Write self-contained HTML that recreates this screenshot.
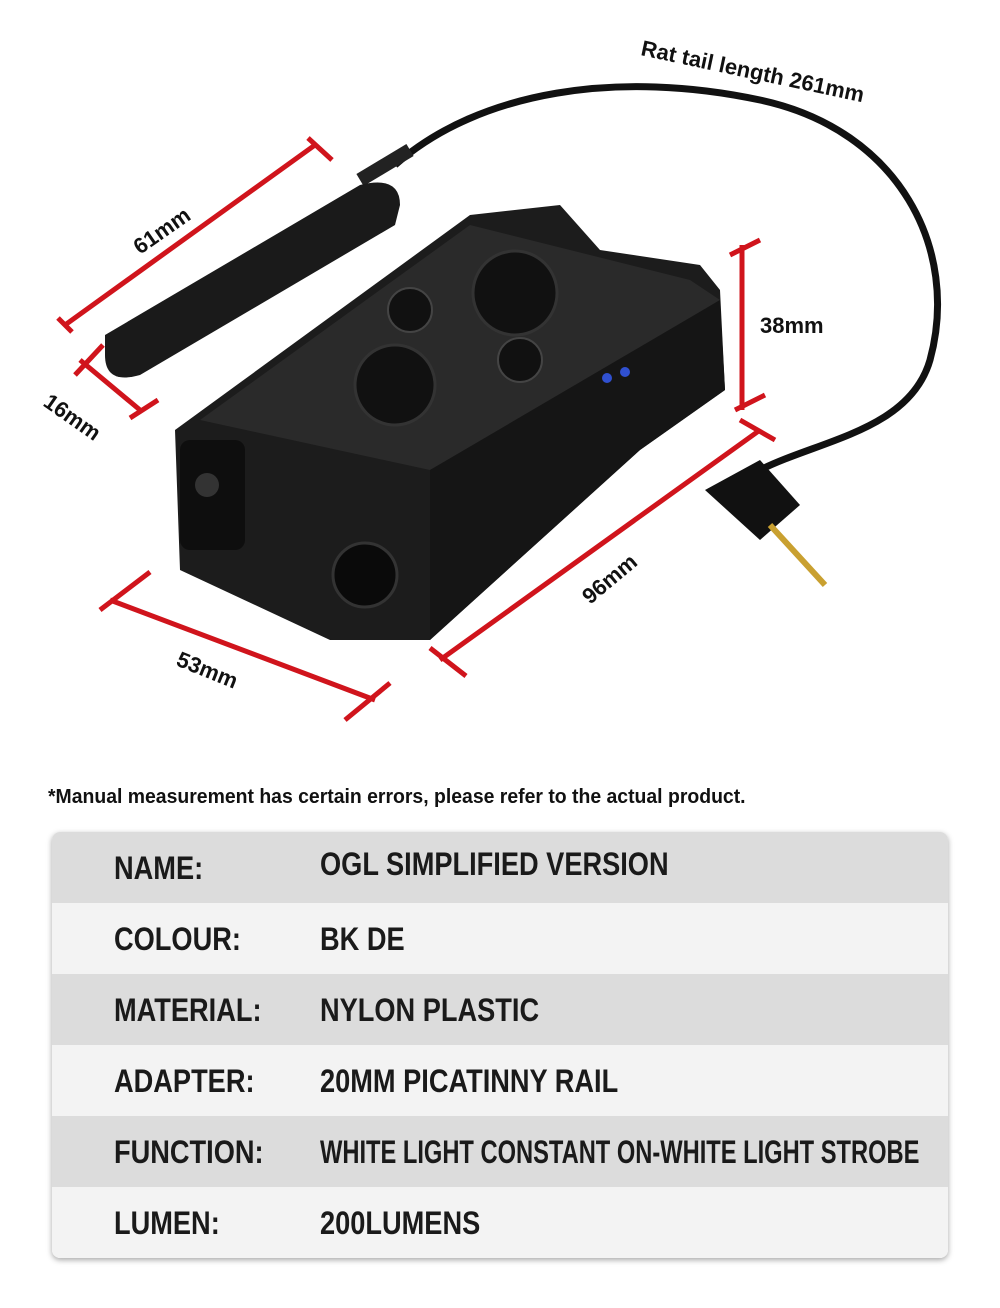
<!DOCTYPE html>
<html><head><meta charset="utf-8">
<style>
body{margin:0;background:#fff;width:1000px;height:1308px;position:relative;overflow:hidden;font-family:"Liberation Sans Narrow","Liberation Sans",sans-serif;}
.t{position:absolute;font-weight:bold;color:#111;white-space:nowrap}
.tbl{position:absolute;left:52px;top:832px;width:896px;height:426px;border-radius:8px;overflow:hidden;box-shadow:0 2px 6px rgba(0,0,0,.35);}
.r{height:71px;position:relative}
.g{background:#dcdcdc}.l{background:#f3f3f3}
.k,.v{position:absolute;top:18px;font-size:32px;font-weight:bold;color:#1a1a1a;transform:scaleX(.85);transform-origin:left;white-space:nowrap}
.k{left:62px}.v{left:268px}
</style></head><body>
<svg width="1000" height="760" style="position:absolute;left:0;top:0">
<path d="M395 165 C480 90,620 70,760 100 C900 130,960 250,930 360 C910 430,820 440,760 470" fill="none" stroke="#111" stroke-width="7"/>
<path d="M360 180 L410 150" stroke="#222" stroke-width="14"/>
<path d="M105 335 L360 185 Q400 175 400 205 L395 225 L140 375 Q105 385 105 355 Z" fill="#1a1a1a"/>
<path d="M705 490 L760 460 L800 505 L760 540 Z" fill="#111"/>
<path d="M770 525 L825 585" stroke="#c9a030" stroke-width="6"/>
<path d="M175 430 L470 215 L560 205 L600 250 L700 265 L720 290 L725 390 L640 450 L430 640 L330 640 L180 570 Z" fill="#1c1c1c"/>
<path d="M200 420 L470 225 L690 280 L720 300 L560 400 L430 470 Z" fill="#2a2a2a"/>
<path d="M430 470 L720 300 L725 390 L640 450 L430 640 Z" fill="#151515"/>
<circle cx="515" cy="293" r="42" fill="#111" stroke="#333" stroke-width="3"/>
<circle cx="395" cy="385" r="40" fill="#111" stroke="#333" stroke-width="3"/>
<circle cx="410" cy="310" r="22" fill="#111" stroke="#444" stroke-width="2"/>
<circle cx="520" cy="360" r="22" fill="#111" stroke="#444" stroke-width="2"/>
<rect x="180" y="440" width="65" height="110" rx="10" fill="#0e0e0e"/>
<circle cx="365" cy="575" r="32" fill="#0a0a0a" stroke="#333" stroke-width="3"/>
<circle cx="207" cy="485" r="12" fill="#333"/>
<circle cx="607" cy="378" r="5" fill="#3050d0"/><circle cx="625" cy="372" r="5" fill="#3050d0"/>
<g stroke="#d0141c" stroke-width="5" fill="none">
<path d="M65 325 L315 145 M58 318 L72 332 M308 138 L332 160"/>
<path d="M80 360 L140 410 M75 375 L103 345 M130 418 L158 400"/>
<path d="M110 600 L375 700 M100 610 L150 572 M345 720 L390 683"/>
<path d="M440 660 L760 430 M430 648 L466 676 M740 420 L775 440"/>
<path d="M742 245 L742 410 M730 255 L760 240 M735 410 L765 395"/>
</g>
<g font-family="Liberation Sans,sans-serif" font-weight="bold" fill="#111" font-size="22">
<text x="140" y="255" transform="rotate(-35 140 255)">61mm</text>
<text x="42" y="405" transform="rotate(35 42 405)">16mm</text>
<text x="175" y="665" transform="rotate(22 175 665)">53mm</text>
<text x="590" y="605" transform="rotate(-40 590 605)">96mm</text>
<text x="760" y="333">38mm</text>
<text x="640" y="55" transform="rotate(12 640 55)">Rat tail length 261mm</text>
</g>
</svg>
<div class="t" style="left:48px;top:786px;font-size:20px;transform:scaleX(.97);transform-origin:left">*Manual measurement has certain errors, please refer to the actual product.</div>
<div class="tbl">
<div class="r g"><span class="k">NAME:</span><span class="v" style="top:14px">OGL SIMPLIFIED VERSION</span></div>
<div class="r l"><span class="k">COLOUR:</span><span class="v">BK DE</span></div>
<div class="r g"><span class="k">MATERIAL:</span><span class="v">NYLON PLASTIC</span></div>
<div class="r l"><span class="k">ADAPTER:</span><span class="v">20MM PICATINNY RAIL</span></div>
<div class="r g"><span class="k">FUNCTION:</span><span class="v" style="transform:scaleX(.74)">WHITE LIGHT CONSTANT ON-WHITE LIGHT STROBE</span></div>
<div class="r l"><span class="k">LUMEN:</span><span class="v">200LUMENS</span></div>
</div>
</body></html>
